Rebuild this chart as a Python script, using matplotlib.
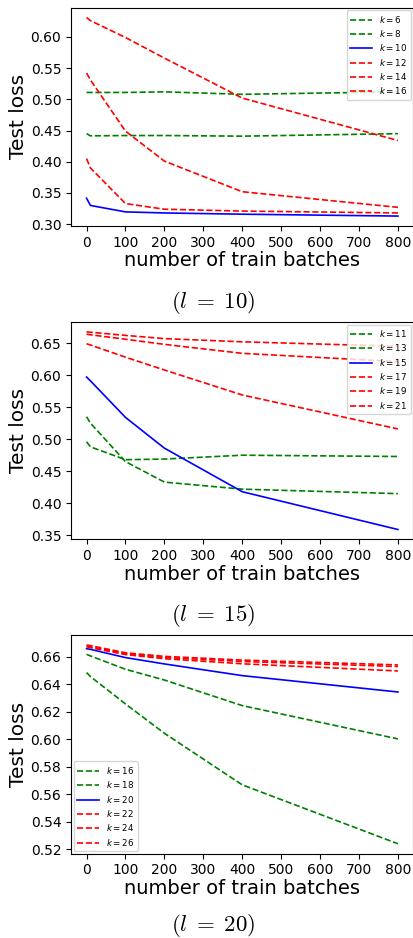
import matplotlib
matplotlib.use("Agg")
import matplotlib.pyplot as plt
from matplotlib.ticker import MultipleLocator, FormatStrFormatter

# number of train batches at which test loss was evaluated
batches = [0, 10, 100, 200, 400, 800]

# (l = 10)
l10_k = [6, 8, 10, 12, 14, 16]
l10_loss = [
    [0.511, 0.511, 0.511, 0.512, 0.508, 0.512],
    [0.445, 0.4415, 0.442, 0.442, 0.441, 0.445],
    [0.3415, 0.330, 0.3197, 0.318, 0.316, 0.313],
    [0.405, 0.390, 0.333, 0.324, 0.321, 0.318],
    [0.542, 0.531, 0.449, 0.401, 0.352, 0.327],
    [0.631, 0.626, 0.599, 0.566, 0.502, 0.434],
]

# (l = 15)
l15_k = [11, 13, 15, 17, 19, 21]
l15_loss = [
    [0.496, 0.488, 0.468, 0.469, 0.475, 0.473],
    [0.535, 0.525, 0.465, 0.433, 0.422, 0.415],
    [0.597, 0.591, 0.534, 0.486, 0.418, 0.359],
    [0.649, 0.647, 0.628, 0.608, 0.569, 0.516],
    [0.664, 0.663, 0.656, 0.648, 0.634, 0.621],
    [0.6675, 0.667, 0.662, 0.657, 0.652, 0.645],
]

# (l = 20)
l20_k = [16, 18, 20, 22, 24, 26]
l20_loss = [
    [0.6484, 0.6455, 0.6256, 0.6043, 0.5668, 0.524],
    [0.6617, 0.6605, 0.6508, 0.643, 0.6244, 0.6002],
    [0.6658, 0.6653, 0.6593, 0.6547, 0.6462, 0.6343],
    [0.6672, 0.6665, 0.6615, 0.6585, 0.6548, 0.6496],
    [0.6678, 0.6672, 0.6622, 0.6594, 0.6565, 0.6528],
    [0.6685, 0.668, 0.6628, 0.6602, 0.6575, 0.6540],
]

plt.rcParams['mathtext.fontset'] = 'dejavusans'

W, H = 414, 938
fig = plt.figure(figsize=(W / 100, H / 100), dpi=100)

# (k, loss, l, axes top px, axes bottom px, legend loc, caption y px, y tick step)
panels = [
    (l10_k, l10_loss, 10, 7.6, 226, 'upper right', 302, 0.05),
    (l15_k, l15_loss, 15, 322, 539.4, 'upper right', 615, 0.05),
    (l20_k, l20_loss, 20, 635, 853.7, 'lower left', 925, 0.02),
]
styles = [('green', '--'), ('green', '--'), ('blue', '-'), ('red', '--'), ('red', '--'), ('red', '--')]

for ks, losses, l, top, bottom, loc, cap_y, step in panels:
    ax = fig.add_axes([71 / W, 1 - bottom / H, (413.5 - 71) / W, (bottom - top) / H])
    for k, loss, (c, ls) in zip(ks, losses, styles):
        ax.plot(batches, loss, color=c, linestyle=ls, linewidth=1.2, label=f'$k = {k}$')
    ax.set_xticks(range(0, 801, 100))
    ax.yaxis.set_major_locator(MultipleLocator(step))
    ax.yaxis.set_major_formatter(FormatStrFormatter('%.2f'))
    ax.tick_params(labelsize=10)
    ax.set_xlabel("number of train batches", fontsize=14, labelpad=1)
    ax.set_ylabel("Test loss", fontsize=14.5, labelpad=2)
    ax.legend(loc=loc, fontsize=6.3, handlelength=2.5, labelspacing=0.38, borderaxespad=0.3)
    fig.text(213 / W, 1 - cap_y / H, rf'$(l\hspace{{0.3}}=\hspace{{0.25}}{l})$', fontsize=16.5,
             ha='center', va='center', math_fontfamily='cm')

fig.savefig("out.png", dpi=100)
